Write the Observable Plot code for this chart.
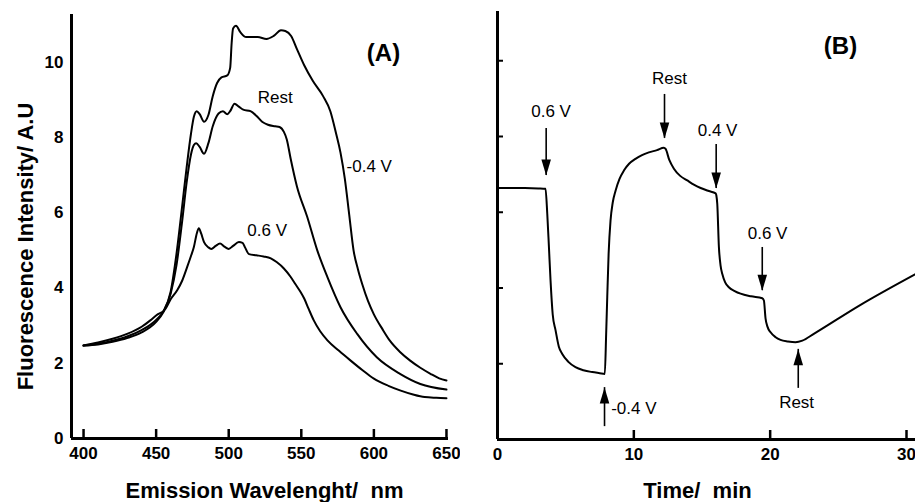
<!DOCTYPE html>
<html><head><meta charset="utf-8">
<script src="https://cdn.jsdelivr.net/npm/d3@7"></script>
<script src="https://cdn.jsdelivr.net/npm/@observablehq/plot@0.6"></script>
<style>
html,body{margin:0;padding:0;background:#fff;overflow:hidden;}
#wrap{position:relative;width:915px;height:502px;overflow:hidden;}
#a{position:absolute;left:0;top:0;}
#b{position:absolute;left:460px;top:0;}
</style></head>
<body><div id="wrap"><div id="a"></div><div id="b"></div></div>
<script>
// ---------- Panel A: emission spectra ----------
const wlNeg = [400,410,420,430,440,450,455,460,464,468,471,474,476,478,480,483,486,489,492,495,499,501,502,503,505,508,512,520,526,531,536,539,543,547,552,558,565,570,574,577,580,583,586,589,592,596,600,606,611,618,625,632,639,645,650];
const iNeg  = [2.47,2.52,2.6,2.71,2.88,3.15,3.38,3.9,4.9,6.2,7.2,8.1,8.55,8.7,8.62,8.42,8.6,9.1,9.45,9.6,9.65,9.85,10.5,10.9,10.97,10.8,10.67,10.67,10.62,10.7,10.85,10.83,10.7,10.35,9.92,9.5,9.1,8.7,8.1,7.6,6.9,5.95,5.0,4.5,4.1,3.65,3.3,2.9,2.6,2.3,2.07,1.88,1.72,1.6,1.54];
const wlRest = [400,410,420,430,440,450,455,460,464,468,471,474,476,477.6,480,483,486,489,493,496,499,501,504,507,510,515,519,523,527,532,535,538,540,542.6,547,554,561,568,577,588.5,602,618,632,650];
const iRest  = [2.47,2.5,2.57,2.67,2.82,3.1,3.36,3.85,4.6,5.8,6.8,7.55,7.8,7.85,7.75,7.57,7.85,8.3,8.64,8.7,8.62,8.7,8.9,8.82,8.74,8.7,8.58,8.42,8.34,8.3,8.28,8.15,7.95,7.45,6.7,5.9,5.0,4.29,3.49,2.78,2.16,1.72,1.45,1.3];
const wlPos = [400,410,420,430,440,446,450,456.5,460,464.5,468,471.4,474,476,478,479.4,481,483,486,488,491,494,497,500,503,507,509.5,511,514,519,524,529,533,538,542.6,546,549.4,552,555,558.6,563,568,576,584,592,600,610,618,627,635,643,650];
const iPos  = [2.47,2.55,2.65,2.78,2.97,3.14,3.27,3.45,3.7,3.94,4.2,4.56,4.85,5.09,5.45,5.59,5.45,5.22,5.08,5.04,5.12,5.18,5.1,5.04,5.12,5.22,5.2,5.1,4.9,4.87,4.84,4.79,4.69,4.52,4.3,4.1,3.9,3.72,3.45,3.14,2.85,2.61,2.33,2.07,1.82,1.59,1.4,1.28,1.17,1.1,1.08,1.07];
const xTicksA = [400,450,500,550,600,650];
const yTicksA = [0,2,4,6,8,10];
const labelsA = ["Rest","-0.4 V","0.6 V"];
const labelWlA = [532.0,596.8,526.5];
const labelIA  = [9.05,7.24,5.53];

// ---------- Panel B: time course ----------
const timeMin = [0,1,2,3,3.52,3.65,3.77,3.89,4.05,4.26,4.5,4.75,5.2,5.72,6.3,6.95,7.5,7.87,7.97,8.05,8.15,8.29,8.45,8.66,8.95,9.27,9.65,10.12,10.6,11.1,11.7,12.2,12.33,12.6,12.94,13.4,13.92,14.4,14.9,15.5,16.0,16.05,16.12,16.24,16.36,16.49,16.7,16.97,17.4,17.83,18.6,19.42,19.54,19.66,19.8,20.03,20.4,20.76,21.3,21.86,22.36,23.2,26.6,30.67];
const signal  = [6.64,6.64,6.64,6.63,6.62,5.96,5.1,4.2,3.3,2.88,2.45,2.26,2.05,1.91,1.83,1.78,1.75,1.73,2.79,3.76,4.9,5.78,6.25,6.57,6.88,7.1,7.28,7.41,7.51,7.58,7.64,7.7,7.67,7.38,7.15,6.96,6.84,6.73,6.64,6.56,6.5,6.45,6.22,5.08,4.6,4.37,4.15,4.02,3.92,3.85,3.78,3.73,3.67,3.2,2.98,2.83,2.7,2.63,2.59,2.57,2.61,2.79,3.55,4.37];
const arrowT    = [3.57,12.25,16.04,19.42,7.85,22.06];
const arrowFrom = [8.21,9.11,7.79,5.07,0.34,1.35];
const arrowTo   = [6.97,7.95,6.63,3.93,1.37,2.38];
const annText = ["0.6 V","Rest","0.4 V","0.6 V","-0.4 V","Rest"];
const annT    = [3.93,12.62,16.14,19.81,10.0,21.94];
const annV    = [8.66,9.54,8.17,5.43,0.81,0.98];
const xTicksB = [0,10,20,30];
const yTicksB = [2,4,6,8,10];

const FONT = '"Liberation Sans", Arial, Helvetica, sans-serif';
const xDomA = [391.7, 651.4];
const xDomB = [0, 30.66];

const spectra = [
  ...wlNeg.map((w, i) => ({series: "-0.4 V", wl: w, I: iNeg[i]})),
  ...wlRest.map((w, i) => ({series: "Rest", wl: w, I: iRest[i]})),
  ...wlPos.map((w, i) => ({series: "0.6 V", wl: w, I: iPos[i]}))
];
const annA = labelsA.map((t, i) => ({text: t, wl: labelWlA[i], I: labelIA[i]}));
const course = timeMin.map((t, i) => ({t, v: signal[i]}));
const arrows = arrowT.map((t, i) => ({t, from: arrowFrom[i], to: arrowTo[i]}));
const annB = annText.map((s, i) => ({text: s, t: annT[i], v: annV[i]}));

// arrowhead with the tip at the origin, pointing down
const arrowHead = {draw(ctx, size) {
  const L = Math.sqrt(size), w = L * 0.3;
  ctx.moveTo(0, 0); ctx.lineTo(-w, -L); ctx.lineTo(w, -L); ctx.closePath();
}};

const A = Plot.plot({
  width: 460, height: 502,
  marginLeft: 71, marginRight: 12, marginTop: 14, marginBottom: 64,
  style: {fontFamily: FONT, fontSize: "17px", fontWeight: "bold", background: "white", color: "black", overflow: "visible"},
  x: {domain: xDomA},
  y: {domain: [0, 11.27]},
  marks: [
    Plot.axisX({ticks: xTicksA, tickSize: -9, tickPadding: 17, strokeWidth: 2.5, label: null, fontSize: 17}),
    Plot.axisY({ticks: yTicksA, tickSize: 0, tickPadding: 8, label: null, fontSize: 17}),
    Plot.ruleX([xDomA[0]], {strokeWidth: 3}),
    Plot.ruleY([0], {strokeWidth: 3}),
    Plot.line(spectra, {x: "wl", y: "I", z: "series", stroke: "black", strokeWidth: 2, curve: "monotone-x"}),
    Plot.text(annA, {x: "wl", y: "I", text: "text", fontSize: 17, fontWeight: "normal"}),
    Plot.text(["(A)"], {frameAnchor: "top-right", textAnchor: "middle", dx: -65, dy: 29, fontSize: 24}),
    Plot.text(["Emission Wavelenght/\u00a0 nm"], {frameAnchor: "bottom", lineAnchor: "bottom", dx: 4.5, dy: 59, fontSize: 22}),
    Plot.text(["Fluorescence Intensity/ A.U"], {frameAnchor: "left", rotate: -90, lineAnchor: "bottom", textAnchor: "middle", dx: -39, dy: 20, fontSize: 22})
  ]
});
document.getElementById("a").appendChild(A);

const B = Plot.plot({
  width: 455, height: 502,
  marginLeft: 37, marginRight: 0, marginTop: 11, marginBottom: 63,
  style: {fontFamily: FONT, fontSize: "17px", fontWeight: "bold", background: "white", color: "black", overflow: "visible"},
  x: {domain: xDomB},
  y: {domain: [0, 11.3]},
  marks: [
    Plot.axisX({ticks: xTicksB, tickSize: -9, tickPadding: 17, strokeWidth: 2.5, label: null, fontSize: 17}),
    Plot.axisY({ticks: yTicksB, tickSize: -6, tickFormat: () => "", strokeWidth: 2, label: null}),
    Plot.ruleX([xDomB[0]], {strokeWidth: 3}),
    Plot.ruleY([0], {strokeWidth: 3}),
    Plot.line(course, {x: "t", y: "v", stroke: "black", strokeWidth: 2, curve: "monotone-x"}),
    Plot.ruleX(arrows, {x: "t", y1: "from", y2: "to", strokeWidth: 1.6}),
    Plot.dot(arrows, {x: "t", y: "to", symbol: arrowHead, r: 9, fill: "black", stroke: "none", rotate: d => d.to > d.from ? 180 : 0}),
    Plot.text(annB, {x: "t", y: "v", text: "text", fontSize: 17, fontWeight: "normal"}),
    Plot.text(["(B)"], {frameAnchor: "top-right", textAnchor: "middle", dx: -75, dy: 25, fontSize: 24}),
    Plot.text(["Time/\u00a0 min"], {frameAnchor: "bottom", lineAnchor: "bottom", dx: -9, dy: 58, fontSize: 22})
  ]
});
document.getElementById("b").appendChild(B);
</script>
</body></html>
